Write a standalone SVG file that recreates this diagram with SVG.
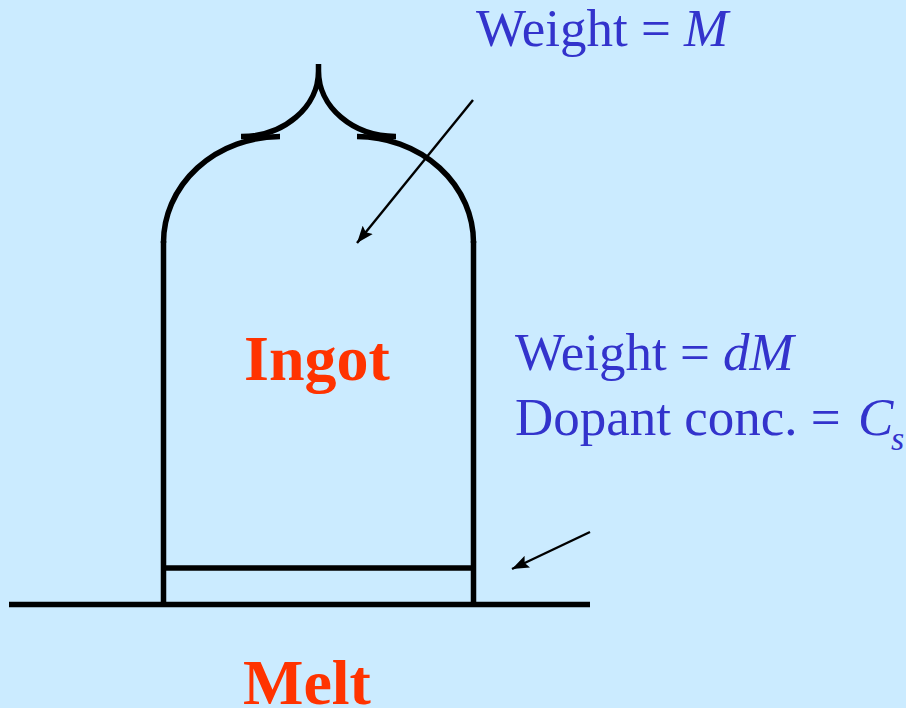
<svg xmlns="http://www.w3.org/2000/svg" width="906" height="708" viewBox="0 0 906 708">
<style>
.s{fill:none;stroke:#000;stroke-width:5.500}
.a{fill:none;stroke:#000;stroke-width:2.400}
.b{font-family:"Liberation Serif",serif;font-size:53px;fill:#3333cc}
.i{font-style:italic}
.o{font-family:"Liberation Serif",serif;font-size:64px;font-weight:bold;fill:#ff3300}
</style>
<defs><marker id="h" markerUnits="userSpaceOnUse" markerWidth="18" markerHeight="14" refX="17" refY="7" orient="auto"><path d="M0 0.500L17 7L0 13.500L3 7Z" fill="#000"/></marker></defs>
<rect width="906" height="708" fill="#cbebff"/>
<g id="ingot">
<path class="s" d="M163.500 243A117 106 0 0 1 280 136.500M473.500 243A117 106 0 0 0 357 136.500"/>
<path class="s" d="M318.500 64V71A77 65.500 0 0 1 241 136.500M318.500 64V71A77 65.500 0 0 0 396 136.500"/>
<path class="s" d="M163.500 241V604M473.500 241V604M163 568H476"/>
<text class="o" x="244" y="380">Ingot</text>
</g>
<g id="melt">
<path class="s" d="M9 604.500H590"/>
<text class="o" x="243" y="704">Melt</text>
</g>
<g id="label-m"><text class="b" x="476" y="46">Weight = <tspan class="i" x="684">M</tspan></text></g>
<g id="label-dm"><text class="b" x="515" y="370">Weight = <tspan class="i" x="723">dM</tspan></text>
<text class="b" x="515" y="435">Dopant conc. = <tspan class="i" x="858">C</tspan><tspan class="i" font-size="34" x="891" y="450">s</tspan></text></g>
<g id="connectors">
<path class="a" d="M473 100L357 243" marker-end="url(#h)"/>
<path class="a" d="M590 532L512 569" marker-end="url(#h)"/>
</g>
</svg>
